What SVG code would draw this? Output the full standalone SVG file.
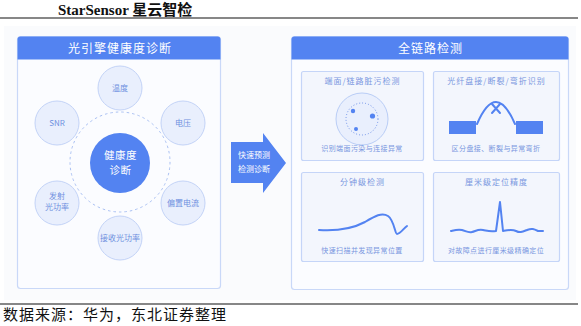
<svg xmlns="http://www.w3.org/2000/svg" width="581" height="326" viewBox="0 0 581 326">
<style>
.cjk{font-family:"Noto Sans CJK SC",sans-serif}
.hdr{fill:#5383f1}
.hdrt{fill:#ffffff;font-size:12px;letter-spacing:1px;text-anchor:middle;font-family:"Noto Sans CJK SC",sans-serif}
.panel{fill:#fbfcff;stroke:#c9d8f8;stroke-width:1.2}
.sub{fill:#f3f6fd;stroke:#c5d5f8;stroke-width:1.2}
.sat{fill:#e9effd;stroke:#c3d3f7;stroke-width:1}
.satt{fill:#6f8fe0;font-size:8px;text-anchor:middle;font-family:"Noto Sans CJK SC",sans-serif}
.subt{fill:#7a96e0;font-size:8px;letter-spacing:1px;text-anchor:middle;font-family:"Noto Sans CJK SC",sans-serif}
.cap{fill:#7a96e0;font-size:7px;letter-spacing:0.4px;text-anchor:middle;font-family:"Noto Sans CJK SC",sans-serif}
.line{fill:none;stroke:#5383f1;stroke-width:2;stroke-linejoin:round;stroke-linecap:round}
</style>
<rect x="0" y="0" width="581" height="326" fill="#ffffff"/>
<text x="58" y="15" font-family="Liberation Serif, 'Noto Sans CJK SC', serif" font-weight="bold" font-size="15" fill="#111">StarSensor 星云智检</text>
<line x1="0" y1="18" x2="578" y2="18" stroke="#111" stroke-width="1.2"/>
<rect x="4" y="26" width="572" height="274" fill="#fafbfd"/>

<g id="left-panel">
<rect class="panel" x="17.5" y="36.5" width="203" height="252" rx="3"/>
<path class="hdr" d="M17.5 39.5a3 3 0 0 1 3-3h197a3 3 0 0 1 3 3v20h-203z"/>
<text class="hdrt" x="120" y="52.5">光引擎健康度诊断</text>
</g>

<g id="dashed-ring">
<circle cx="120" cy="162" r="50" fill="none" stroke="#a9c0f3" stroke-width="1" stroke-dasharray="2.5 3"/>
</g>
<g id="center-node">
<circle cx="120" cy="163" r="30" fill="#5383f1"/>
<text x="120.5" y="159" fill="#ffffff" font-size="10.5" letter-spacing="0.5" text-anchor="middle" class="cjk">健康度</text>
<text x="120.5" y="174" fill="#ffffff" font-size="10.5" letter-spacing="0.5" text-anchor="middle" class="cjk">诊断</text>
</g>
<g id="node-temp"><circle class="sat" cx="120" cy="88" r="22"/><text class="satt" x="120" y="91">温度</text></g>
<g id="node-snr"><circle class="sat" cx="57" cy="123" r="22"/><text class="satt" x="57" y="126" font-family="Liberation Sans, sans-serif">SNR</text></g>
<g id="node-volt"><circle class="sat" cx="183" cy="123" r="22"/><text class="satt" x="183" y="126">电压</text></g>
<g id="node-tx"><circle class="sat" cx="57" cy="203" r="22"/><text class="satt" x="57" y="199">发射</text><text class="satt" x="57" y="210">光功率</text></g>
<g id="node-bias"><circle class="sat" cx="183" cy="203" r="22"/><text class="satt" x="183" y="206">偏置电流</text></g>
<g id="node-rx"><circle class="sat" cx="120" cy="238" r="22"/><text class="satt" x="120" y="241">接收光功率</text></g>

<g id="connectors">
<path d="M231 142H263V133L286 163L263 193V183H231Z" fill="#5383f1"/>
<text x="254" y="158" fill="#ffffff" font-size="8" text-anchor="middle" class="cjk">快速预测</text>
<text x="254" y="172" fill="#ffffff" font-size="8" text-anchor="middle" class="cjk">检测诊断</text>
</g>

<g id="right-panel">
<rect class="panel" x="291.5" y="36.5" width="277" height="253" rx="3"/>
<path class="hdr" d="M291.5 39.5a3 3 0 0 1 3-3h271a3 3 0 0 1 3 3v20h-277z"/>
<text class="hdrt" x="430.5" y="52.5">全链路检测</text>
</g>

<g id="box-dirt">
<rect class="sub" x="301.5" y="71.5" width="122" height="89" rx="2"/>
<text class="subt" x="362.5" y="84">端面/链路脏污检测</text>
<circle cx="362" cy="119" r="26" fill="#e9effd" stroke="#b9cdf6" stroke-width="1"/>
<circle cx="362" cy="119" r="16" fill="none" stroke="#6f92ea" stroke-width="1" stroke-dasharray="1 2"/>
<circle cx="353" cy="111" r="2.2" fill="#5383f1"/>
<circle cx="372.5" cy="116" r="2.6" fill="#5383f1"/>
<circle cx="356" cy="129" r="2" fill="#5383f1"/>
<text class="cap" x="362" y="151">识别端面污染与连接异常</text>
</g>

<g id="box-break">
<rect class="sub" x="433.5" y="71.5" width="126" height="89" rx="2"/>
<text class="subt" x="496.5" y="84">光纤盘接/断裂/弯折识别</text>
<rect x="449" y="121" width="27" height="13" fill="#5383f1"/>
<rect x="516" y="121" width="27" height="13" fill="#5383f1"/>
<path class="line" d="M477 124Q496 80 515 124"/>
<path class="line" d="M492 104L500 113M500 104L492 113" stroke-width="1.6"/>
<text class="cap" x="496" y="151">区分盘接、断裂与异常弯折</text>
</g>

<g id="box-minute">
<rect class="sub" x="301.5" y="172.5" width="122" height="89" rx="2"/>
<text class="subt" x="362.5" y="185">分钟级检测</text>
<path class="line" d="M319 230C335 231 350 230 365 222C375 216 382 212 388 216C394 220 395 234 397 234C400 234 404 228 407 226"/>
<text class="cap" x="362" y="253">快速扫描并发现异常位置</text>
</g>

<g id="box-cm">
<rect class="sub" x="433.5" y="172.5" width="126" height="89" rx="2"/>
<text class="subt" x="496.5" y="185">厘米级定位精度</text>
<path class="line" stroke-width="1.6" d="M451 231C455 230 458 229 462 230S468 233 472 232S478 229 483 230S490 232 496 231L500 202L503 231C508 230 512 229 516 231S522 232 527 230S534 229 538 231L543 231"/>
<text class="cap" x="496" y="253">对故障点进行厘米级精确定位</text>
</g>

<line x1="0" y1="304" x2="578" y2="304" stroke="#111" stroke-width="1.2"/>
<text x="3" y="320" font-size="15" letter-spacing="1" fill="#111" font-family="'Noto Sans CJK SC', serif">数据来源：华为，东北证券整理</text>
</svg>
